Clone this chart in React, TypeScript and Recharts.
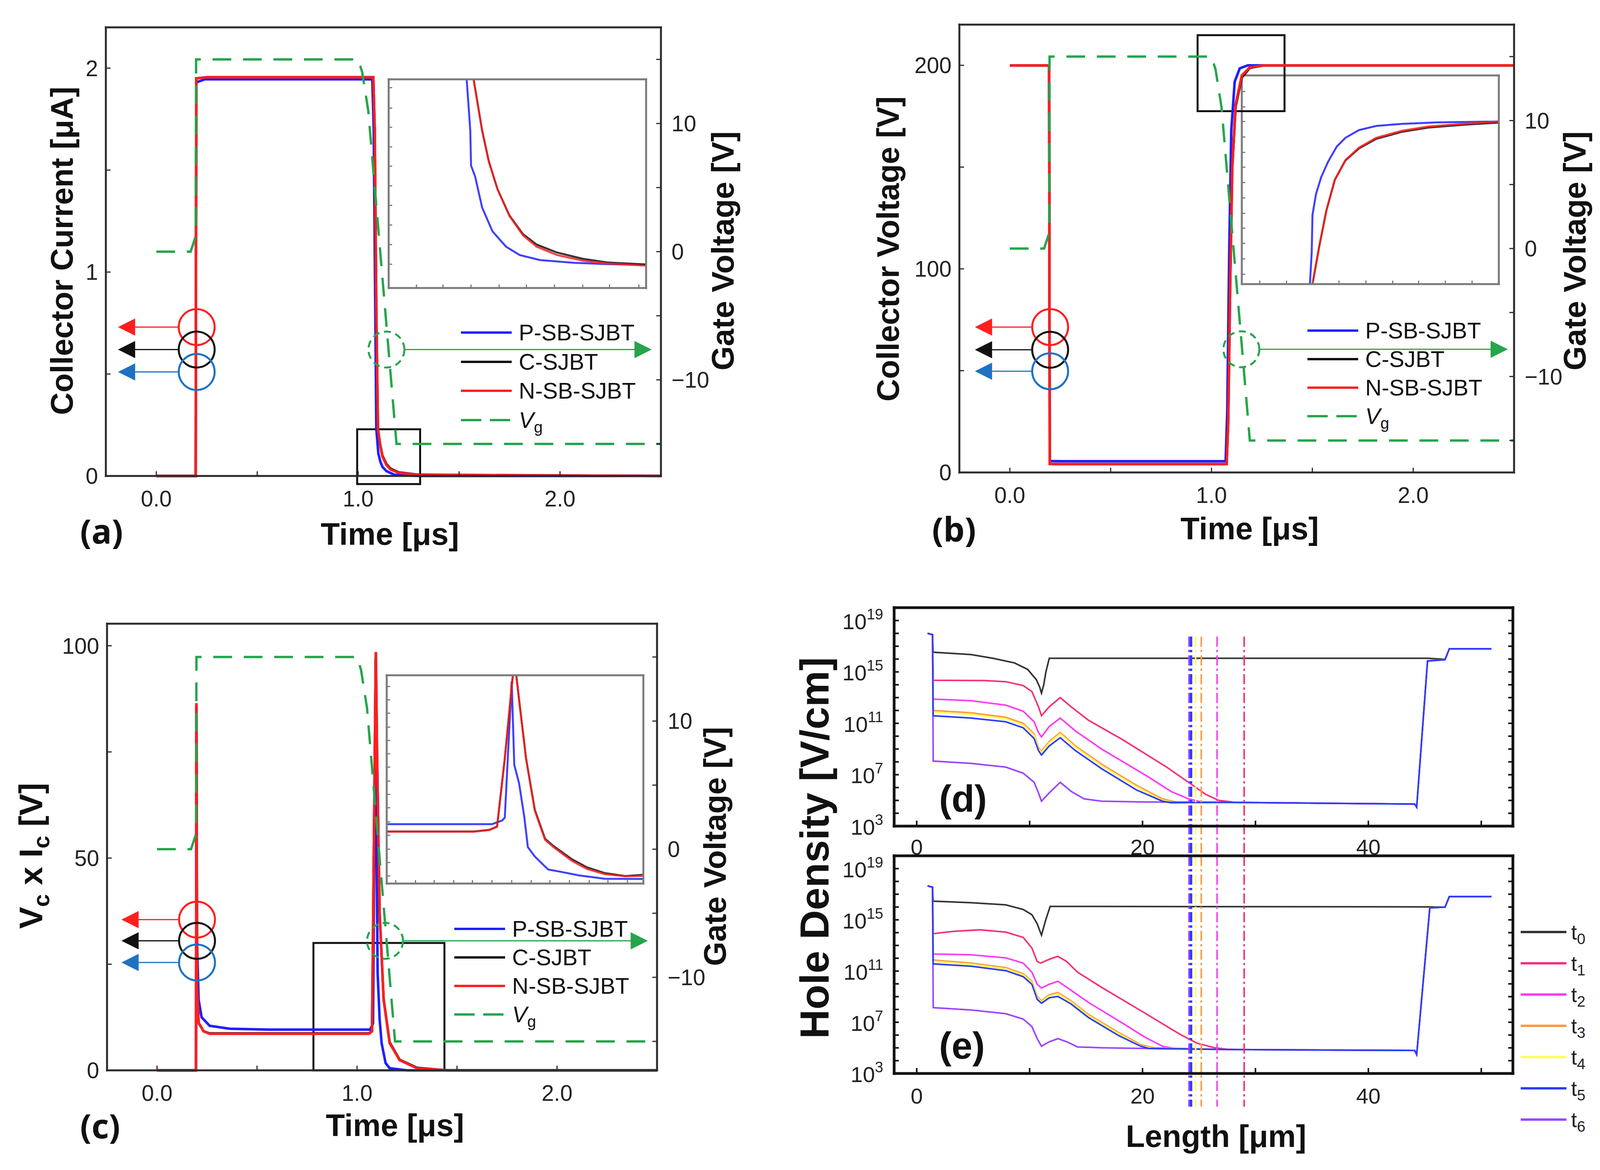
import React from "react";
import {
  ComposedChart,
  Line,
  XAxis,
  YAxis,
  ReferenceArea,
  ReferenceDot,
  ReferenceLine,
} from "recharts";

type Pt = [number, number];
type Frame = { L: number; T: number; R: number; B: number };

const SANS = "'Liberation Sans', Arial, Helvetica, sans-serif";
const LETTER = "'Noto Sans', 'Open Sans', sans-serif";

const BLUE = "#1f1fff";
const RED = "#ff1f1f";
const BLACK = "#111111";
const GREEN = "#25a54c";
const ARROW_BLUE = "#1f72c0";
const AXIS = "#2b2b2b";
const INSET_AXIS = "#7a7a7a";

const seriesNames = ["P-SB-SJBT", "C-SJBT", "N-SB-SJBT"];
const seriesColors = [BLUE, BLACK, RED];
const markColors = [RED, BLACK, ARROW_BLUE];

// time axis shared by (a) (b) (c)
const timeDomain: [number, number] = [-0.25, 2.5];
const timeTicks = [0, 0.5, 1, 1.5, 2];
const timeLabelled = [0, 1, 2];
const gateTicks = [-15, -10, -5, 0, 5, 10, 15];
const gateLabelled = [10, 0, -10];

// gate drive, same in all three time panels [t (us), V]
const vgDrive: Pt[] = [
  [0, 0], [0.17, 0], [0.195, 1.2], [0.197, 15], [1.0, 15], [1.02, 14],
  [1.05, 11], [1.19, -15], [2.5, -15],
];

// (a) collector current [uA]
const icPsb: Pt[] = [
  [0, 0], [0.195, 0], [0.198, 1.93], [0.24, 1.945], [1.07, 1.945], [1.077, 1.7],
  [1.084, 0.9], [1.09, 0.23], [1.1, 0.11], [1.11, 0.07], [1.12, 0.045],
  [1.14, 0.024], [1.18, 0.006], [1.3, 0], [2.5, 0],
];
const icC: Pt[] = [
  [0, 0], [0.195, 0], [0.198, 1.95], [0.25, 1.955], [1.075, 1.955], [1.082, 1.7],
  [1.09, 0.8], [1.098, 0.23], [1.108, 0.16], [1.12, 0.1], [1.14, 0.058],
  [1.16, 0.036], [1.2, 0.018], [1.3, 0.006], [2.5, 0],
];
const icNsb: Pt[] = [
  [0, 0], [0.195, 0], [0.198, 1.95], [0.25, 1.955], [1.075, 1.955], [1.082, 1.7],
  [1.09, 0.8], [1.098, 0.23], [1.108, 0.16], [1.12, 0.095], [1.14, 0.054],
  [1.16, 0.032], [1.2, 0.016], [1.3, 0.005], [2.5, 0],
];

// (b) collector voltage [V]
const vcPsb: Pt[] = [
  [0, 200], [0.195, 200], [0.198, 5.6], [0.25, 5.5], [1.07, 5.5], [1.078, 30],
  [1.088, 110], [1.098, 168], [1.115, 192], [1.14, 198.5], [1.18, 200], [2.5, 200],
];
const vcC: Pt[] = [
  [0, 200], [0.195, 200], [0.198, 4.2], [0.25, 4.1], [1.075, 4.1], [1.083, 25],
  [1.093, 95], [1.103, 150], [1.12, 180], [1.15, 194], [1.19, 198.8], [1.26, 200], [2.5, 200],
];
const vcNsb: Pt[] = [
  [0, 200], [0.195, 200], [0.198, 4.2], [0.25, 4.1], [1.075, 4.1], [1.083, 25],
  [1.093, 95], [1.103, 150], [1.12, 181], [1.15, 195], [1.19, 199], [1.26, 200], [2.5, 200],
];

// (c) Vc x Ic
const pcPsb: Pt[] = [
  [0, 0], [0.195, 0], [0.197, 86], [0.2, 30], [0.208, 16.6], [0.223, 12.5],
  [0.263, 10.5], [0.363, 9.8], [0.563, 9.6], [1.065, 9.6], [1.08, 11], [1.093, 97],
  [1.098, 50], [1.103, 23], [1.113, 12], [1.123, 6.4], [1.143, 1.7], [1.163, 0.5],
  [1.25, 0], [2.5, 0],
];
const pcC: Pt[] = [
  [0, 0], [0.195, 0], [0.197, 86], [0.2, 20], [0.208, 11.2], [0.233, 9.2],
  [0.263, 8.7], [1.06, 8.7], [1.075, 9.3], [1.094, 98.5], [1.1, 75], [1.113, 37],
  [1.133, 16.8], [1.163, 6.6], [1.213, 2.5], [1.3, 0.6], [1.45, 0], [2.5, 0],
];
const pcNsb: Pt[] = [
  [0, 0], [0.195, 0], [0.197, 86.5], [0.2, 20], [0.208, 11.2], [0.233, 9.2],
  [0.263, 8.6], [1.06, 8.6], [1.075, 9.2], [1.094, 98.5], [1.1, 75], [1.113, 37],
  [1.133, 16.6], [1.163, 6.4], [1.213, 2.4], [1.3, 0.5], [1.45, 0], [2.5, 0],
];

// insets, read in inset units (0-100 of the inset box)
const insetAPsb: Pt[] = [
  [30.1, 110], [30.3, 100], [31.7, 75.5], [32, 58.7], [33.6, 53.4], [36.3, 38.6],
  [40.3, 27.2], [45.6, 19.8], [50.9, 15.8], [58.8, 13.4], [72, 12.1], [85.3, 11.4], [100, 11.1],
];
const insetAC: Pt[] = [
  [32.8, 110], [33, 100], [36.3, 75.5], [38.9, 60.7], [42.3, 47.3], [46.9, 34.8],
  [52.2, 25.8], [57.5, 20.8], [65.4, 17], [75.4, 14], [85.3, 12.2], [100, 11.3],
];
const insetANsb: Pt[] = [
  [32.8, 110], [33, 100], [36.3, 75.5], [38.9, 60.7], [42.3, 47.3], [46.9, 34.6],
  [52.2, 25.2], [57.5, 19.8], [65.4, 15.8], [75.4, 13.1], [85.3, 11.7], [100, 10.7],
];
const insetBPsb: Pt[] = [
  [26.4, -5], [26.5, 0], [27.2, 15.1], [27.5, 33.2], [28.9, 43.3], [30.9, 51.3],
  [33.6, 58.7], [36.9, 65.8], [40.3, 70.1], [45.6, 73.8], [52.3, 75.8], [62.4, 76.8],
  [75.8, 77.5], [100, 77.9],
];
const insetBC: Pt[] = [
  [27.3, -5], [27.5, 0], [30.2, 18.5], [32.9, 35.2], [36.2, 50], [40.3, 59.2],
  [45.6, 65], [52.3, 69.6], [62.4, 73], [72.5, 75], [85.9, 76.3], [100, 77.4],
];
const insetBNsb: Pt[] = [
  [27.3, -5], [27.5, 0], [30.2, 18.5], [32.9, 35.2], [36.2, 50], [40.3, 59.4],
  [45.6, 65.4], [52.3, 70.1], [62.4, 73.5], [72.5, 75.5], [85.9, 76.8], [100, 77.9],
];
const insetCPsb: Pt[] = [
  [0, 28.5], [41, 28.5], [45, 30.3], [46, 31.6], [48.7, 97], [49.2, 77], [49.7, 57],
  [51.6, 48], [53.6, 32], [55, 17.5], [57.7, 13], [61, 9], [63, 6.7], [68, 5.6],
  [75, 3.9], [85, 2.3], [100, 2.2],
];
const insetCC: Pt[] = [
  [0, 25], [34, 25], [40, 25.8], [43, 27.4], [46, 60], [49.3, 102], [50.3, 102],
  [51.6, 88], [54.3, 60], [57.7, 35.5], [61.7, 21.5], [65, 18], [72, 11.8], [78, 7.8],
  [85, 5], [93, 3.6], [100, 4.2],
];
const insetCNsb: Pt[] = [
  [0, 24.9], [34, 24.9], [40, 25.7], [43, 27.3], [46, 60], [49.3, 102], [50.3, 102],
  [51.6, 88], [54.3, 60], [57.7, 35], [61.7, 21], [65, 17.5], [72, 11], [78, 7],
  [85, 4.5], [93, 3.5], [100, 3.7],
];

// hole density, [x (um), log10 density]
const lengthDomain: [number, number] = [-2, 52.8];
const lengthTicks = [0, 10, 20, 30, 40, 50];
const lengthLabelled = [0, 20, 40];
const densityDomain: [number, number] = [1e3, 1e20];
const decadeTicks = [
  1e3, 1e4, 1e5, 1e6, 1e7, 1e8, 1e9, 1e10, 1e11, 1e12, 1e13, 1e14, 1e15, 1e16,
  1e17, 1e18, 1e19, 1e20,
];
const decadeLabelled = [3, 7, 11, 15, 19];
const timeNames = ["0", "1", "2", "3", "4", "5", "6"];
const holeColors = ["#333333", "#f5307a", "#fb3cf5", "#ff9a40", "#ffff5a", "#2b3cff", "#9b45ff"];
const drawOrder = [0, 1, 2, 3, 4, 6, 5];

const dTail: Pt[] = [
  [28, 4.85], [36, 4.78], [44.09, 4.72], [44.28, 4.47], [45.24, 15.85], [46.79, 15.95],
  [47.17, 16.8], [50.9, 16.8],
];
const t0D: Pt[] = [
  [0.96, 18], [1.4, 17.9], [1.46, 16.53], [4.81, 16.35], [6.74, 16.06], [8.66, 15.7],
  [9.82, 15.2], [10.59, 14.4], [10.9, 13.8], [11.05, 13.35], [11.25, 14.0], [11.44, 15.0],
  [11.74, 16.06], [45.3, 16.06], [46.79, 15.98], [47.17, 16.8], [50.9, 16.8],
];
const t1D: Pt[] = [
  [0.96, 18], [1.4, 17.9], [1.46, 14.35], [5.97, 14.33], [7.89, 14.24], [9.43, 13.94],
  [10.2, 13.47], [10.78, 12.29], [11.05, 11.59], [11.74, 12.29], [12.71, 13.0],
  [13.67, 12.29], [15.21, 11.24], [18.29, 9.7], [22.14, 7.59], [24.07, 6.41],
  [25.6, 5.47], [26.76, 5.0], [27.92, 4.88], ...dTail,
];
const t2D: Pt[] = [
  [0.96, 18], [1.4, 17.9], [1.46, 12.88], [4.81, 12.76], [7.89, 12.41], [9.43, 11.94],
  [10.4, 11.12], [10.78, 10.29], [11.05, 9.94], [11.74, 10.76], [12.71, 11.41],
  [14.05, 10.41], [16.37, 9.0], [20.2, 7.0], [22.53, 5.7], [24.07, 5.12], [25.22, 4.88],
  ...dTail,
];
const t3D: Pt[] = [
  [0.96, 18], [1.4, 17.9], [1.46, 12.0], [4.81, 11.82], [7.89, 11.47], [9.43, 11.0],
  [10.4, 10.18], [10.78, 9.12], [11.05, 8.82], [11.74, 9.59], [12.71, 10.29],
  [14.05, 9.24], [16.37, 7.82], [19.45, 6.18], [21.76, 5.12], [22.91, 4.88], ...dTail,
];
const t4D: Pt[] = [
  [0.96, 18], [1.4, 17.9], [1.46, 11.88], [4.81, 11.7], [7.89, 11.35], [9.43, 10.88],
  [10.4, 10.06], [10.78, 9.0], [11.05, 8.7], [11.74, 9.47], [12.71, 10.17],
  [14.05, 9.12], [16.37, 7.7], [19.45, 6.06], [21.76, 5.0], [22.7, 4.86], ...dTail,
];
const t5D: Pt[] = [
  [0.96, 18], [1.4, 17.9], [1.46, 11.59], [4.81, 11.41], [7.89, 11.12], [9.43, 10.65],
  [10.4, 9.82], [10.78, 8.88], [11.05, 8.53], [11.74, 9.24], [12.71, 9.88],
  [14.05, 8.88], [16.37, 7.47], [19.45, 5.82], [21.76, 4.94], [22.53, 4.82], ...dTail,
];
const t6D: Pt[] = [
  [0.96, 18], [1.4, 17.9], [1.46, 8.06], [4.81, 7.88], [7.89, 7.59], [9.43, 7.12],
  [10.4, 6.41], [10.78, 5.59], [11.05, 4.94], [11.74, 5.59], [12.71, 6.41], [13.67, 5.71],
  [14.82, 5.12], [16.37, 4.94], [20.2, 4.88], ...dTail,
];

const eTail: Pt[] = [
  [28, 4.87], [36, 4.83], [44.09, 4.8], [44.28, 4.48], [45.44, 15.93], [46.79, 15.99],
  [47.17, 16.82], [50.9, 16.82],
];
const t0E: Pt[] = [
  [0.96, 17.65], [1.4, 17.55], [1.46, 16.46], [4.81, 16.34], [7.89, 16.17], [9.43, 15.81],
  [10.2, 15.4], [10.67, 14.69], [11.05, 13.8], [11.44, 15.04], [11.82, 16.05],
  [45.44, 16.01], [46.79, 15.99], [47.17, 16.82], [50.9, 16.82],
];
const t1E: Pt[] = [
  [0.96, 17.65], [1.4, 17.55], [1.46, 13.92], [3.27, 14.1], [5.58, 14.22], [7.89, 14.04],
  [9.43, 13.63], [10.2, 12.8], [10.67, 11.74], [10.97, 11.62], [11.74, 11.92],
  [12.51, 12.15], [13.28, 11.74], [14.25, 10.91], [16.37, 9.73], [20.2, 7.72],
  [23.3, 6.07], [24.84, 5.36], [26.38, 5.01], [27.53, 4.89], ...eTail,
];
const t2E: Pt[] = [
  [0.96, 17.65], [1.4, 17.55], [1.46, 12.33], [4.81, 12.27], [7.89, 12.03], [9.43, 11.62],
  [10.2, 10.91], [10.67, 9.97], [11.05, 9.67], [11.74, 9.97], [12.51, 10.2], [13.67, 9.5],
  [15.21, 8.55], [18.29, 6.9], [20.2, 5.84], [21.76, 5.13], [22.91, 4.95], ...eTail,
];
const t3E: Pt[] = [
  [0.96, 17.65], [1.4, 17.55], [1.46, 11.86], [4.81, 11.62], [7.89, 11.27], [9.43, 10.79],
  [10.2, 10.2], [10.67, 9.02], [11.05, 8.67], [11.74, 9.14], [12.51, 9.32], [13.67, 8.67],
  [15.21, 7.61], [17.9, 6.19], [19.83, 5.25], [20.99, 5.01], ...eTail,
];
const t4E: Pt[] = [
  [0.96, 17.65], [1.4, 17.55], [1.46, 11.76], [4.81, 11.52], [7.89, 11.17], [9.43, 10.69],
  [10.2, 10.1], [10.67, 8.92], [11.05, 8.57], [11.74, 9.04], [12.51, 9.22], [13.67, 8.57],
  [15.21, 7.51], [17.9, 6.09], [19.83, 5.15], [20.99, 4.95], ...eTail,
];
const t5E: Pt[] = [
  [0.96, 17.65], [1.4, 17.55], [1.46, 11.56], [4.81, 11.38], [7.89, 11.03], [9.43, 10.56],
  [10.2, 9.97], [10.67, 8.79], [11.05, 8.49], [11.74, 8.91], [12.51, 9.02], [13.67, 8.43],
  [15.21, 7.37], [17.9, 5.95], [19.83, 5.13], [20.6, 4.95], ...eTail,
];
const t6E: Pt[] = [
  [0.96, 17.65], [1.4, 17.55], [1.46, 8.14], [4.81, 7.96], [7.89, 7.67], [9.43, 7.25],
  [10.2, 6.66], [10.67, 5.72], [11.05, 5.13], [11.74, 5.48], [12.51, 5.72], [13.28, 5.48],
  [14.25, 5.07], [16.37, 5.01], [20.2, 4.95], ...eTail,
];

// depletion edge markers (dash-dot), one per time step
const markerX = [24.15, 24.3, 24.7, 25.2, 26.6, 29.0];
const markerStep = [6, 5, 4, 3, 2, 1];

const rows = (pts: Pt[]) => pts.map(([x, y]) => ({ x, y }));
const logRows = (pts: Pt[]) => pts.map(([x, e]) => ({ x, y: Math.pow(10, e) }));

const axisLine = (stroke: string, w: number) => ({ stroke, strokeWidth: w, strokeLinecap: "square" as const });

function TimePanel({ frame, yDomain, yTicks, yLabelled, gDomain, curves, box, marks, green }: any) {
  const m = 30;
  const yW = 170;
  const xH = 120;
  const w = frame.R - frame.L;
  const h = frame.B - frame.T;
  const px = w / (timeDomain[1] - timeDomain[0]);
  const r = 46;
  const head = 44;
  const tickFont = { fontSize: 57, fontFamily: SANS, fill: "#222" };
  const tl = { stroke: AXIS, strokeWidth: 3 };

  const annotations: any[] = [];
  marks.ys.forEach((y: number, i: number) => {
    annotations.push(
      <ReferenceLine
        key={`al${i}`}
        xAxisId="b"
        yAxisId="l"
        ifOverflow="visible"
        segment={[{ x: marks.x - r / px, y }, { x: marks.tip + (head - 4) / px, y }]}
        stroke={markColors[i]}
        strokeWidth={3}
      />,
      <ReferenceDot
        key={`ah${i}`}
        xAxisId="b"
        yAxisId="l"
        x={marks.tip}
        y={y}
        r={2}
        ifOverflow="visible"
        shape={(p: any) => (
          <polygon
            points={`${p.cx},${p.cy} ${p.cx + head},${p.cy - head / 2} ${p.cx + head},${p.cy + head / 2}`}
            fill={markColors[i]}
          />
        )}
      />,
      <ReferenceDot
        key={`ac${i}`}
        xAxisId="b"
        yAxisId="l"
        x={marks.x}
        y={y}
        r={r}
        fill="none"
        stroke={markColors[i]}
        strokeWidth={5}
        ifOverflow="visible"
      />,
    );
  });

  return (
    <div style={{ position: "absolute", left: frame.L - yW - m, top: frame.T - m - 1 }}>
      <ComposedChart
        width={w + 2 * yW + 2 * m}
        height={h + xH + 1 + 2 * m}
        margin={{ top: m, right: m, bottom: m, left: m }}
      >
        <XAxis
          xAxisId="b"
          type="number"
          dataKey="x"
          domain={timeDomain}
          ticks={timeTicks}
          height={xH}
          tickFormatter={(v: number) => (timeLabelled.includes(v) ? v.toFixed(1) : "")}
          tick={tickFont}
          tickSize={-12}
          tickMargin={50}
          axisLine={axisLine(AXIS, 5)}
          tickLine={tl}
        />
        <XAxis
          xAxisId="t"
          orientation="top"
          type="number"
          dataKey="x"
          domain={timeDomain}
          ticks={timeTicks}
          height={1}
          tickFormatter={() => ""}
          tickSize={-12}
          axisLine={axisLine(AXIS, 5)}
          tickLine={tl}
        />
        <YAxis
          yAxisId="l"
          type="number"
          domain={yDomain}
          ticks={yTicks}
          width={yW}
          tickFormatter={(v: number) => (yLabelled.includes(v) ? String(v) : "")}
          tick={tickFont}
          tickSize={-12}
          tickMargin={32}
          axisLine={axisLine(AXIS, 5)}
          tickLine={tl}
        />
        <YAxis
          yAxisId="r"
          orientation="right"
          type="number"
          domain={gDomain}
          ticks={gateTicks}
          width={yW}
          tickFormatter={(v: number) =>
            gateLabelled.includes(v) ? (v < 0 ? `\u2212${Math.abs(v)}` : String(v)) : ""
          }
          tick={tickFont}
          tickSize={-12}
          tickMargin={39}
          axisLine={axisLine(AXIS, 5)}
          tickLine={tl}
        />
        {curves.map((pts: Pt[], i: number) => (
          <Line
            key={seriesNames[i]}
            xAxisId="b"
            yAxisId="l"
            data={rows(pts)}
            dataKey="y"
            stroke={seriesColors[i]}
            strokeWidth={6.5}
            dot={false}
            isAnimationActive={false}
          />
        ))}
        <Line
          xAxisId="b"
          yAxisId="r"
          data={rows(vgDrive)}
          dataKey="y"
          stroke={GREEN}
          strokeWidth={6}
          strokeDasharray="48 30"
          dot={false}
          isAnimationActive={false}
        />
        <ReferenceArea
          xAxisId="b"
          yAxisId="l"
          x1={box.x1}
          x2={box.x2}
          y1={box.y1}
          y2={box.y2}
          fill="none"
          fillOpacity={0}
          stroke="#111"
          strokeWidth={5}
          ifOverflow="visible"
        />
        {annotations}
        <ReferenceLine
          xAxisId="b"
          yAxisId="l"
          ifOverflow="visible"
          segment={[{ x: green.x + r / px, y: green.y }, { x: green.to - (head - 4) / px, y: green.y }]}
          stroke={GREEN}
          strokeWidth={3}
        />
        <ReferenceDot
          xAxisId="b"
          yAxisId="l"
          x={green.to}
          y={green.y}
          r={2}
          ifOverflow="visible"
          shape={(p: any) => (
            <polygon
              points={`${p.cx},${p.cy} ${p.cx - head},${p.cy - head / 2} ${p.cx - head},${p.cy + head / 2}`}
              fill={GREEN}
            />
          )}
        />
        <ReferenceDot
          xAxisId="b"
          yAxisId="l"
          x={green.x}
          y={green.y}
          r={r}
          fill="none"
          stroke={GREEN}
          strokeWidth={5}
          strokeDasharray="18 12"
          ifOverflow="visible"
        />
      </ComposedChart>
    </div>
  );
}

function InsetChart({ frame, curves, xTicks, yTicks }: any) {
  const m = 10;
  const w = frame.R - frame.L;
  const h = frame.B - frame.T;
  const al = axisLine(INSET_AXIS, 5);
  const tl = { stroke: INSET_AXIS, strokeWidth: 3 };
  return (
    <>
      <div
        style={{ position: "absolute", left: frame.L, top: frame.T, width: w, height: h, background: "#fff" }}
      />
      <div style={{ position: "absolute", left: frame.L - m - 1, top: frame.T - m - 1 }}>
        <ComposedChart width={w + 2 * m + 2} height={h + 2 * m + 2} margin={{ top: m, right: m, bottom: m, left: m }}>
          <XAxis xAxisId="b" type="number" dataKey="x" domain={[0, 100]} ticks={xTicks} height={1}
            allowDataOverflow tickFormatter={() => ""} tickSize={-9} axisLine={al} tickLine={tl} />
          <XAxis xAxisId="t" orientation="top" type="number" dataKey="x" domain={[0, 100]} ticks={xTicks}
            height={1} tickFormatter={() => ""} tickSize={-9} axisLine={al} tickLine={tl} />
          <YAxis yAxisId="l" type="number" domain={[0, 100]} ticks={yTicks} width={1}
            allowDataOverflow tickFormatter={() => ""} tickSize={-9} axisLine={al} tickLine={tl} />
          <YAxis yAxisId="r" orientation="right" type="number" domain={[0, 100]} ticks={yTicks} width={1}
            tickFormatter={() => ""} tickSize={-9} axisLine={al} tickLine={tl} />
          {curves.map((pts: Pt[], i: number) => (
            <Line
              key={seriesNames[i]}
              xAxisId="b"
              yAxisId="l"
              data={rows(pts)}
              dataKey="y"
              stroke={seriesColors[i]}
              strokeOpacity={0.85}
              strokeWidth={5}
              dot={false}
              isAnimationActive={false}
            />
          ))}
        </ComposedChart>
      </div>
    </>
  );
}

function DecadeTick(props: any) {
  const { x, y, payload } = props;
  const e = Math.round(Math.log10(payload.value));
  if (!decadeLabelled.includes(e)) return <g />;
  return (
    <text x={x} y={y} textAnchor="end" fontFamily={SANS} fill="#222">
      <tspan fontSize={56} dy={22}>10</tspan>
      <tspan fontSize={38} dy={-25}>{e}</tspan>
    </text>
  );
}

function HolePanel({ frame, curves, xTickMargin, markerSpan }: any) {
  const m = 20;
  const yW = 170;
  const xH = 130;
  const w = frame.R - frame.L;
  const h = frame.B - frame.T;
  const al = axisLine("#111", 7);
  const tl = { stroke: "#111", strokeWidth: 4 };
  return (
    <div style={{ position: "absolute", left: frame.L - yW - m, top: frame.T - m - 1 }}>
      <ComposedChart width={w + yW + 1 + 2 * m} height={h + xH + 1 + 2 * m} margin={{ top: m, right: m, bottom: m, left: m }}>
        <XAxis
          xAxisId="b"
          type="number"
          dataKey="x"
          domain={lengthDomain}
          ticks={lengthTicks}
          height={xH}
          allowDataOverflow
          tickFormatter={(v: number) => (lengthLabelled.includes(v) ? String(v) : "")}
          tick={{ fontSize: 56, fontFamily: SANS, fill: "#222" }}
          tickSize={-14}
          tickMargin={xTickMargin}
          axisLine={al}
          tickLine={tl}
        />
        <XAxis xAxisId="t" orientation="top" type="number" dataKey="x" domain={lengthDomain} ticks={lengthTicks}
          height={1} tickFormatter={() => ""} tickSize={-14} axisLine={al} tickLine={tl} />
        <YAxis
          yAxisId="l"
          scale="log"
          type="number"
          domain={densityDomain}
          ticks={decadeTicks}
          width={yW}
          allowDataOverflow
          tick={(p: any) => <DecadeTick {...p} />}
          tickSize={-12}
          tickMargin={40}
          axisLine={al}
          tickLine={tl}
        />
        <YAxis yAxisId="r" orientation="right" scale="log" type="number" domain={densityDomain} ticks={decadeTicks}
          width={1} allowDataOverflow tickFormatter={() => ""} tickSize={-12} axisLine={al} tickLine={tl} />
        {drawOrder.map((k) => (
          <Line
            key={timeNames[k]}
            xAxisId="b"
            yAxisId="l"
            data={logRows(curves[k])}
            dataKey="y"
            stroke={holeColors[k]}
            strokeWidth={4}
            dot={false}
            isAnimationActive={false}
          />
        ))}
        {markerX.map((x, i) => (
          <ReferenceLine
            key={`mk${i}`}
            xAxisId="b"
            yAxisId="l"
            ifOverflow="visible"
            segment={[
              { x, y: Math.pow(10, markerSpan[0]) },
              { x, y: Math.pow(10, markerSpan[1]) },
            ]}
            stroke={holeColors[markerStep[i]]}
            strokeWidth={markerStep[i] >= 5 ? 6 : 4}
            strokeDasharray="26 8 6 8"
          />
        ))}
      </ComposedChart>
    </div>
  );
}

function Label({ x, y, size, rotate, anchor = "middle", family = SANS, weight = 700, children }: any) {
  const tx = anchor === "start" ? "0" : "-50%";
  return (
    <div
      style={{
        position: "absolute",
        left: x,
        top: y,
        transform: `translate(${tx}, -50%)${rotate ? " rotate(-90deg)" : ""}`,
        fontFamily: family,
        fontSize: size,
        fontWeight: weight,
        lineHeight: 1,
        whiteSpace: "nowrap",
        color: "#111",
      }}
    >
      {children}
    </div>
  );
}

const Sub = ({ children, size = "0.7em" }: any) => (
  <span style={{ fontSize: size, position: "relative", top: "0.3em" }}>{children}</span>
);

function SeriesLegend({ x, y, step }: any) {
  const entries = [
    ...seriesNames.map((n, i) => ({ label: <span>{n}</span>, color: seriesColors[i], dash: undefined })),
    { label: <span><i>V</i><Sub>g</Sub></span>, color: GREEN, dash: "52 22" },
  ];
  return (
    <>
      {entries.map((e, i) => (
        <div
          key={i}
          style={{ position: "absolute", left: x, top: y + i * step, height: 0, display: "flex", alignItems: "center" }}
        >
          <svg width={130} height={20} style={{ overflow: "visible" }}>
            <line x1={0} y1={10} x2={130} y2={10} stroke={e.color} strokeWidth={6} strokeDasharray={e.dash} />
          </svg>
          <span style={{ marginLeft: 18, fontFamily: SANS, fontSize: 58, lineHeight: 1, color: "#111", whiteSpace: "nowrap" }}>
            {e.label}
          </span>
        </div>
      ))}
    </>
  );
}

function TimeLegend() {
  const ys = [2385, 2465, 2545, 2625, 2705, 2785, 2865];
  return (
    <>
      {timeNames.map((n, i) => (
        <div
          key={n}
          style={{ position: "absolute", left: 3893, top: ys[i], height: 0, display: "flex", alignItems: "center" }}
        >
          <svg width={117} height={20} style={{ overflow: "visible" }}>
            <line x1={0} y1={10} x2={117} y2={10} stroke={holeColors[i]} strokeWidth={6} />
          </svg>
          <span style={{ marginLeft: 12, fontFamily: SANS, fontSize: 54, lineHeight: 1, color: "#222" }}>
            t<Sub size="0.72em">{n}</Sub>
          </span>
        </div>
      ))}
    </>
  );
}

const frameA: Frame = { L: 271, T: 70, R: 1692, B: 1218 };
const frameB: Frame = { L: 2456, T: 63, R: 3876, B: 1209 };
const frameC: Frame = { L: 274, T: 1596, R: 1682, B: 2739 };
const frameD: Frame = { L: 2289, T: 1555, R: 3873, B: 2114 };
const frameE: Frame = { L: 2289, T: 2190, R: 3873, B: 2747 };

export default function App() {
  return (
    <div
      style={{
        position: "absolute",
        left: 0,
        top: 0,
        width: 4124,
        height: 2994,
        background: "#fff",
        overflow: "hidden",
      }}
    >
      {/* (a) collector current */}
      <InsetChart
        frame={{ L: 995, T: 203, R: 1654, B: 737 }}
        curves={[insetAPsb, insetAC, insetANsb]}
        xTicks={[10.8, 21.1, 32, 42.9, 53.5, 64.4, 75.4, 85.8, 97.2]}
        yTicks={[11.4, 20.8, 30.2, 39.6, 49, 58.4, 67.6, 77, 86.2, 96]}
      />
      <TimePanel
        frame={frameA}
        yDomain={[0, 2.2]}
        yTicks={[0, 0.5, 1, 1.5, 2]}
        yLabelled={[0, 1, 2]}
        gDomain={[-17.5, 17.5]}
        curves={[icPsb, icC, icNsb]}
        box={{ x1: 0.995, x2: 1.307, y1: -0.04, y2: 0.229 }}
        marks={{ x: 0.2, tip: -0.19, ys: [0.73, 0.62, 0.51] }}
        green={{ x: 1.14, y: 0.62, to: 2.454 }}
      />
      <SeriesLegend x={1180} y={851} step={74.5} />
      <Label x={159} y={642} size={80} rotate>Collector Current [μA]</Label>
      <Label x={1851} y={642} size={80} rotate>Gate Voltage [V]</Label>
      <Label x={998} y={1367} size={80}>Time [μs]</Label>
      <Label x={205} y={1358} size={86} anchor="start" family={LETTER}>(a)</Label>

      {/* (b) collector voltage */}
      <InsetChart
        frame={{ L: 3179, T: 193, R: 3837, B: 727 }}
        curves={[insetBPsb, insetBC, insetBNsb]}
        xTicks={[7, 17.4, 27.5, 37.8, 48.3, 58.7, 68.8, 79.2, 89.6]}
        yTicks={[4.7, 12.1, 19.5, 26.8, 33.9, 41.3, 48.7, 56, 63.1, 70.5, 77.9, 84.9, 92.3]}
      />
      <TimePanel
        frame={frameB}
        yDomain={[0, 220]}
        yTicks={[0, 50, 100, 150, 200]}
        yLabelled={[0, 100, 200]}
        gDomain={[-17.5, 17.5]}
        curves={[vcPsb, vcC, vcNsb]}
        box={{ x1: 0.931, x2: 1.362, y1: 177.5, y2: 214.8 }}
        marks={{ x: 0.2, tip: -0.173, ys: [71.4, 60.3, 49.7] }}
        green={{ x: 1.148, y: 60.5, to: 2.469 }}
      />
      <SeriesLegend x={3347} y={846} step={73} />
      <Label x={2274} y={637} size={80} rotate>Collector Voltage [V]</Label>
      <Label x={4032} y={642} size={80} rotate>Gate Voltage [V]</Label>
      <Label x={3199} y={1353} size={80}>Time [μs]</Label>
      <Label x={2386} y={1353} size={86} anchor="start" family={LETTER}>(b)</Label>

      {/* (c) Vc x Ic */}
      <InsetChart
        frame={{ L: 990, T: 1728, R: 1647, B: 2261 }}
        curves={[insetCPsb, insetCC, insetCNsb]}
        xTicks={[3.5, 11.2, 18.5, 26.1, 33.4, 41, 48.7, 56.3, 63.6, 71.2, 78.9, 86.2, 93.8]}
        yTicks={[3.7, 10.1, 16.5, 23.2, 29.6, 36.4, 42.8, 49.2, 55.9, 62.3, 68.7, 75.1, 81.8, 88.2, 94.6]}
      />
      <TimePanel
        frame={frameC}
        yDomain={[0, 105.2]}
        yTicks={[0, 25, 50, 75, 100]}
        yLabelled={[0, 50, 100]}
        gDomain={[-17.26, 17.6]}
        curves={[pcPsb, pcC, pcNsb]}
        box={{ x1: 0.782, x2: 1.437, y1: 0, y2: 30 }}
        marks={{ x: 0.2, tip: -0.178, ys: [35.5, 30.5, 25.4] }}
        green={{ x: 1.14, y: 30.5, to: 2.454 }}
      />
      <SeriesLegend x={1163} y={2377} step={73} />
      <Label x={79} y={2190} size={84} rotate>
        V<Sub>c</Sub> x I<Sub>c</Sub> [V]
      </Label>
      <Label x={1831} y={2166} size={80} rotate>Gate Voltage [V]</Label>
      <Label x={1011} y={2880} size={80}>Time [μs]</Label>
      <Label x={205} y={2880} size={86} anchor="start" family={LETTER}>(c)</Label>

      {/* (d) (e) hole density */}
      <HolePanel frame={frameD} curves={[t0D, t1D, t2D, t3D, t4D, t5D, t6D]} xTickMargin={47} markerSpan={[17.75, 0.69]} />
      <HolePanel frame={frameE} curves={[t0E, t1E, t2E, t3E, t4E, t5E, t6E]} xTickMargin={51} markerSpan={[20, 0.41]} />
      <TimeLegend />
      <Label x={2404} y={2044} size={96} anchor="start">(d)</Label>
      <Label x={2404} y={2676} size={96} anchor="start">(e)</Label>
      <Label x={2085} y={2170} size={104} rotate>Hole Density [V/cm]</Label>
      <Label x={3113} y={2908} size={80}>Length [μm]</Label>
    </div>
  );
}
